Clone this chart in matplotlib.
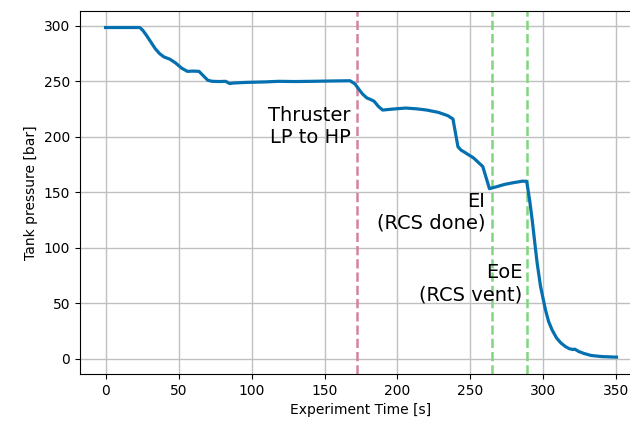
import matplotlib
matplotlib.use("Agg")
import matplotlib.pyplot as plt

time_s = [0, 10, 23.5, 25.5, 28, 31, 34, 37, 40, 44, 48, 52, 56, 60, 64, 67, 70, 73,
          78, 82.3, 85, 88, 95.9, 110, 118.6, 130, 141.4, 155, 167.5, 170.9, 174,
          176.1, 179, 181.8, 184, 186.8, 189.8, 197, 205.7, 213, 220, 228, 234.5,
          238, 239.5, 241.4, 243.5, 246, 252, 258.4, 263, 268, 273.2, 279, 285.7,
          288.5, 290.5, 292.3, 294, 295.7, 298, 301.4, 303.5, 305.9, 309, 312, 315,
          317.5, 320, 321.5, 324.1, 328, 332.6, 340, 350]
pressure_bar = [298.5, 298.5, 298.5, 296.0, 291.5, 285.5, 279.5, 275.0, 272.0, 270.0,
                266.5, 262.0, 259.0, 259.2, 259.0, 255.0, 251.0, 250.0, 249.8, 250.0,
                248.0, 248.5, 249.0, 249.5, 250.0, 249.8, 250.0, 250.3, 250.5, 247.6,
                242.0, 238.5, 235.0, 233.5, 232.0, 227.5, 224.1, 225.0, 225.9, 225.2,
                224.1, 222.0, 219.0, 216.0, 205.0, 191.0, 188.0, 186.0, 181.0, 173.2,
                153.2, 155.0, 157.0, 158.5, 160.0, 159.8, 143.0, 124.7, 105.0, 85.8,
                65.0, 43.8, 33.5, 25.9, 18.5, 14.0, 10.9, 9.0, 8.2, 8.5, 6.4, 4.5,
                2.8, 1.8, 1.3]

events_x = [172.6, 264.4, 289.0]
event_colors = ["#d4829f", "#7fd67f", "#7fd67f"]
labels = ["Thruster\nLP to HP", "EI\n(RCS done)", "EoE\n(RCS vent)"]
label_x = [168.0, 260.0, 285.5]
label_y = [209.0, 132.0, 67.5]

fig = plt.figure(figsize=(6.3, 4.25), dpi=100)
ax = fig.add_axes([80/630, (425-374)/425, (642-80)/630, (374-11)/425])
ax.plot(time_s, pressure_bar, color="#0570b0", lw=2.3, zorder=3)
for xv, c in zip(events_x, event_colors):
    ax.axvline(xv, color=c, ls="--", lw=1.8, zorder=2)
for lx, ly, t in zip(label_x, label_y, labels):
    ax.text(lx, ly, t, ha="right", va="center", fontsize=14, zorder=4)
ax.set_xlim(-17.5, 367.5)
ax.set_ylim(-13.9, 313.4)
ax.set_xticks([0, 50, 100, 150, 200, 250, 300, 350])
ax.set_yticks([0, 50, 100, 150, 200, 250, 300])
ax.grid(True, color="#c0c0c0", lw=1)
ax.set_axisbelow(True)
ax.set_xlabel("Experiment Time [s]")
ax.set_ylabel("Tank pressure [bar]")
fig.savefig("out.png", dpi=100)
